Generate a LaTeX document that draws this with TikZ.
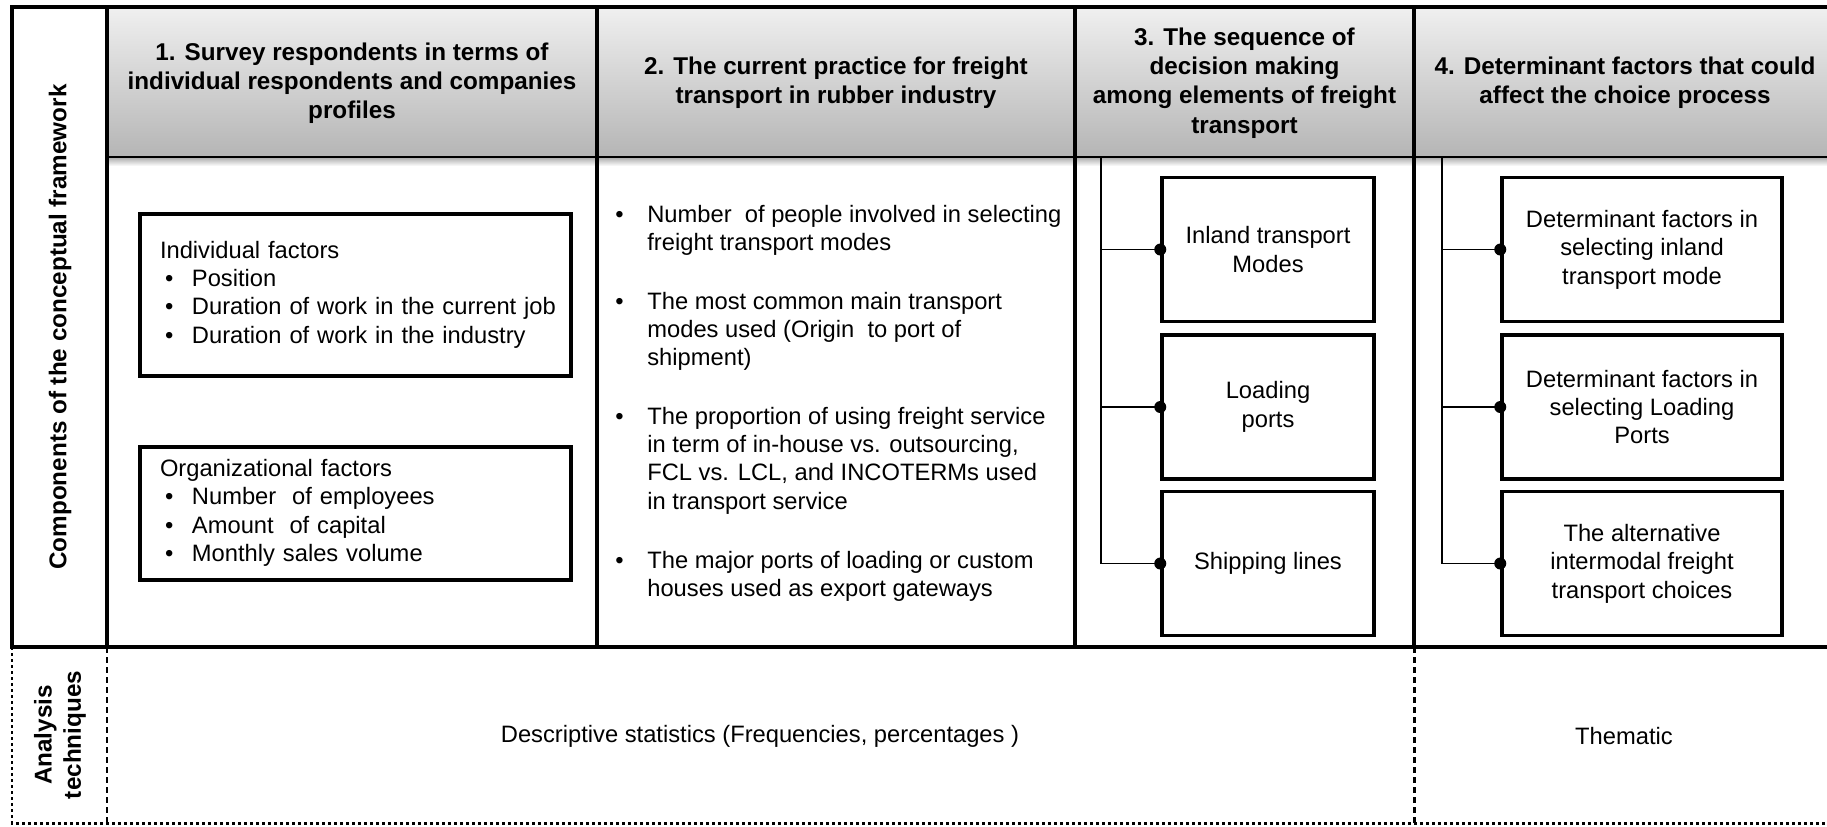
\documentclass[tikz,border=0pt]{standalone}
\usepackage{fontspec}
\setmainfont{Liberation Sans}
\usetikzlibrary{positioning}
\newcommand{\blt}{\hspace*{1mm}\textbullet}

\begin{document}
\begin{tikzpicture}[x=0.2mm,y=-0.2mm,
        every node/.style={font=\fontsize{13.5}{16.2}\selectfont},
        head/.style={font=\fontsize{13.8}{16.6}\selectfont\bfseries,align=center},
        frame/.style={line width=2.2pt},
        factorbox/.style={draw,line width=2pt,text width=78.2mm,inner xsep=4mm,align=left},
        item/.style={anchor=base west,inner sep=0pt},
        choice/.style={draw,line width=2pt,minimum height=28.8mm,align=center},
        branch/.style={line width=0.8pt}]
    \useasboundingbox (0,0) rectangle (1827,826);

    % header band with its shadow
    \shade[top color=black!6,bottom color=black!29] (107,7) rectangle (1827,157);
    \shade[top color=black!30,bottom color=white] (107,158) rectangle (1827,166);

    % frame of the upper row
    \draw[frame] (1827,7) -- (12,7) -- (12,647) -- (1827,647);
    \foreach \x in {107,597,1075,1414}
        \draw[frame] (\x,7) -- (\x,647);
    \draw[line width=1.2pt] (107,157) -- (1827,157);

    % lower row
    \draw[line width=1.7pt,dash pattern=on 0.6mm off 0.6mm] (12,647) -- (12,823) -- (1827,823);
    \foreach \x in {107,1414}
        \draw[line width=1.7pt,dash pattern=on 1.2mm off 0.8mm] (\x,647) -- (\x,823);

    \node[rotate=90,head] (comp) at (60,327) {Components of the conceptual framework};
    \node[rotate=90,head] (anal) at (60,735) {Analysis\\techniques};

    \node[head] (h1) at (352,83) {1. Survey respondents in terms of\\individual respondents and companies\\profiles};
    \node[head] (h2) at (836,83) {2. The current practice for freight\\transport in rubber industry};
    \node[head] (h3) at (1244.5,83) {3. The sequence of\\decision making\\among elements of freight\\transport};
    \node[head] (h4) at (1625,83) {4. Determinant factors that could\\affect the choice process};

    % column 1
    \node[factorbox,minimum height=32.4mm] (ind) at (355.5,295) {\begin{tabular}{@{}p{6.4mm}@{}l@{}}
        \multicolumn{2}{@{}l@{}}{Individual factors}\\
        \blt & Position\\
        \blt & Duration of work in the current job\\
        \blt & Duration of work in the industry\end{tabular}};
    \node[factorbox,minimum height=26.6mm] (org) at (355.5,513.5) {\begin{tabular}{@{}p{6.4mm}@{}l@{}}
        \multicolumn{2}{@{}l@{}}{Organizational factors}\\
        \blt & Number\ \ of employees\\
        \blt & Amount\ \ of capital\\
        \blt & Monthly sales volume\end{tabular}};

    % column 2
    \node[item] (p1) at (615,222) {\begin{tabular}[t]{@{}p{6.4mm}@{}l@{}}
        \textbullet & Number\ \ of people involved in selecting\\
        & freight transport modes\end{tabular}};
    \node[item] (p2) at (615,309) {\begin{tabular}[t]{@{}p{6.4mm}@{}l@{}}
        \textbullet & The most common main transport\\
        & modes used (Origin\ \ to port of\\
        & shipment)\end{tabular}};
    \node[item] (p3) at (615,424) {\begin{tabular}[t]{@{}p{6.4mm}@{}l@{}}
        \textbullet & The proportion of using freight service\\
        & in term of in-house vs. outsourcing,\\
        & FCL vs. LCL, and INCOTERMs used\\
        & in transport service\end{tabular}};
    \node[item] (p4) at (615,568) {\begin{tabular}[t]{@{}p{6.4mm}@{}l@{}}
        \textbullet & The major ports of loading or custom\\
        & houses used as export gateways\end{tabular}};

    % columns 3 and 4
    \coordinate (t3) at (1101,157);
    \coordinate (t4) at (1442,157);
    \foreach \n/\y/\txt in {1/249.5/{Inland transport\\Modes},2/407/{Loading\\ports},3/563.5/{Shipping lines}}
    {
        \node[choice,minimum width=42.4mm] (m\n) at (1268,\y) {\txt};
        \draw[branch] (t3) |- (m\n.west);
        \fill (m\n.west) circle (1.2mm);
    }
    \foreach \n/\y/\txt in {1/249.5/{Determinant factors in\\selecting inland\\transport mode},2/407/{Determinant factors in\\selecting Loading\\Ports},3/563.5/{The alternative\\intermodal freight\\transport choices}}
    {
        \node[choice,minimum width=56mm] (f\n) at (1642,\y) {\txt};
        \draw[branch] (t4) |- (f\n.west);
        \fill (f\n.west) circle (1.2mm);
    }

    \node (desc) at (760,736) {Descriptive statistics (Frequencies, percentages )};
    \node (them) at (1624,736) {Thematic};
\end{tikzpicture}
\end{document}
